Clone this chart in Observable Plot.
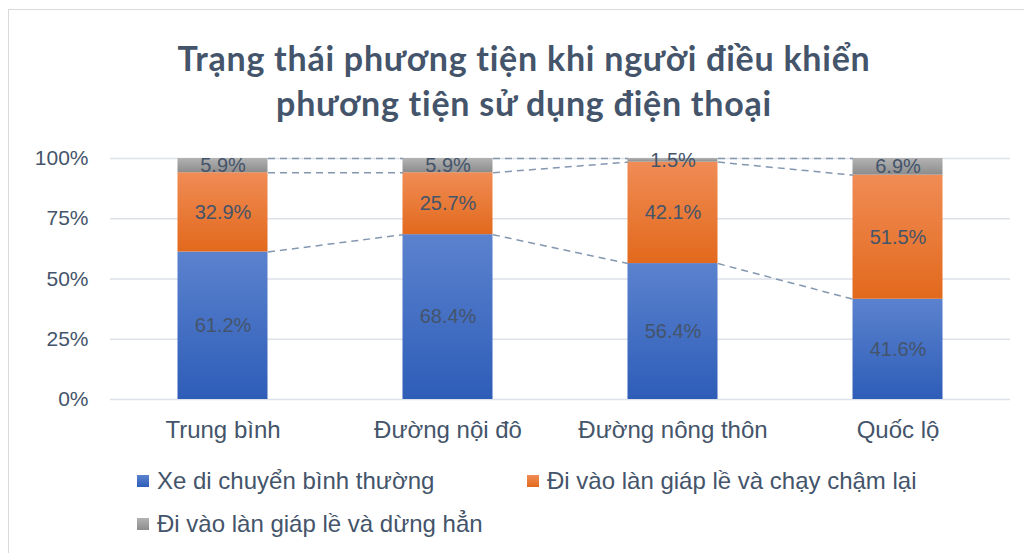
<!DOCTYPE html>
<html><head><meta charset="utf-8">
<script src="https://cdn.jsdelivr.net/npm/d3@7"></script>
<script src="https://cdn.jsdelivr.net/npm/@observablehq/plot@0.6"></script>
<style>
body{margin:0;background:#fff;}
#wrap{position:relative;width:1024px;height:553px;overflow:hidden;font-family:"Liberation Sans",Arial,sans-serif;color:#44546A;background:#fff;}
#frame{position:absolute;left:8px;top:9px;width:1040px;height:570px;border:1px solid #d9d9d9;box-sizing:border-box;}
#title{position:absolute;left:12px;top:35px;width:1024px;text-align:center;font-family:Lato,"Open Sans",sans-serif;font-weight:700;font-size:34px;letter-spacing:0.75px;line-height:45px;color:#44546A;}
#chart{position:absolute;left:0;top:130px;}
.leg{position:absolute;font-size:24px;display:flex;align-items:center;white-space:nowrap;line-height:28px;}
.sw{width:12px;height:12px;margin-right:8px;}
</style></head>
<body>
<div id="wrap">
  <div id="frame"></div>
  <div id="title">Trạng thái phương tiện khi người điều khiển<br>phương tiện sử dụng điện thoại</div>
  <div id="chart"></div>
  <div id="legend"></div>
</div>
<script>
const categories = ["Trung bình", "Đường nội đô", "Đường nông thôn", "Quốc lộ"];
const seriesNames = ["Xe di chuyển bình thường", "Đi vào làn giáp lề và chạy chậm lại", "Đi vào làn giáp lề và dừng hẳn"];
const normalMove = [61.2, 68.4, 56.4, 41.6];
const slowDown = [32.9, 25.7, 42.1, 51.5];
const fullStop = [5.9, 5.9, 1.5, 6.9];
const yTicks = [0, 25, 50, 75, 100];

const seriesValues = [normalMove, slowDown, fullStop];
const fills = ["url(#gBlue)", "url(#gOrange)", "url(#gGray)"];
const swatch = ["linear-gradient(#5b82ce,#2e5db8)", "linear-gradient(#f08c55,#e2691c)", "linear-gradient(#b3b3b3,#8c8c8c)"];
const half = 0.2;

const segments = [];
const tops = seriesValues.map(() => []);
categories.forEach((c, i) => {
  let acc = 0;
  seriesValues.forEach((vals, s) => {
    const v = vals[i];
    segments.push({i, s, y1: acc, y2: acc + v, mid: acc + v / 2, label: v.toFixed(1) + "%"});
    acc += v;
    tops[s].push(acc);
  });
});
const links = [];
tops.forEach((t, s) => {
  for (let i = 0; i < t.length - 1; i++) {
    links.push({x1: i + half, x2: i + 1 - half, y1: t[i], y2: t[i + 1]});
  }
});

const plot = Plot.plot({
  width: 1024,
  height: 330,
  marginTop: 28,
  marginBottom: 61,
  marginLeft: 110,
  marginRight: 14,
  style: {fontFamily: "'Liberation Sans', Arial, sans-serif", fontSize: "21px", color: "#44546A", background: "transparent"},
  x: {domain: [-0.5, 3.5], ticks: [0, 1, 2, 3], tickFormat: i => categories[i], tickSize: 0, tickPadding: 21, label: null},
  y: {domain: [0, 100], ticks: yTicks, tickFormat: d => d + "%", tickSize: 0, tickPadding: 22, label: null},
  marks: [
    Plot.ruleY(yTicks, {stroke: "#dde1e8", strokeWidth: 1.5}),
    Plot.rectY(segments, {x1: d => d.i - half, x2: d => d.i + half, y1: "y1", y2: "y2", fill: d => fills[d.s]}),
    Plot.link(links, {x1: "x1", x2: "x2", y1: "y1", y2: "y2", stroke: "#8497b0", strokeWidth: 1.5, strokeDasharray: "7,5"}),
    Plot.text(segments, {x: "i", y: "mid", text: "label", fill: "#44546A", fontSize: 20})
  ]
});

const defs = d3.select(plot).insert("defs", ":first-child");
[["gBlue", "#5b82ce", "#2e5db8"], ["gOrange", "#f08c55", "#e2691c"], ["gGray", "#b3b3b3", "#8c8c8c"]].forEach(([id, a, b]) => {
  const g = defs.append("linearGradient").attr("id", id).attr("x1", 0).attr("y1", 0).attr("x2", 0).attr("y2", 1);
  g.append("stop").attr("offset", "0%").attr("stop-color", a);
  g.append("stop").attr("offset", "100%").attr("stop-color", b);
});
d3.select(plot).selectAll("g[aria-label='x-axis tick label'] text, g[aria-label='x-axis'] text").attr("font-size", 24);
document.getElementById("chart").appendChild(plot);

const legendPos = [[137, 481], [527, 481], [137, 524]];
const legend = document.getElementById("legend");
seriesNames.forEach((n, s) => {
  const el = document.createElement("div");
  el.className = "leg";
  el.style.left = legendPos[s][0] + "px";
  el.style.top = (legendPos[s][1] - 14) + "px";
  el.innerHTML = `<span class="sw" style="background:${swatch[s]}"></span><span>${n}</span>`;
  legend.appendChild(el);
});
</script>
</body></html>
